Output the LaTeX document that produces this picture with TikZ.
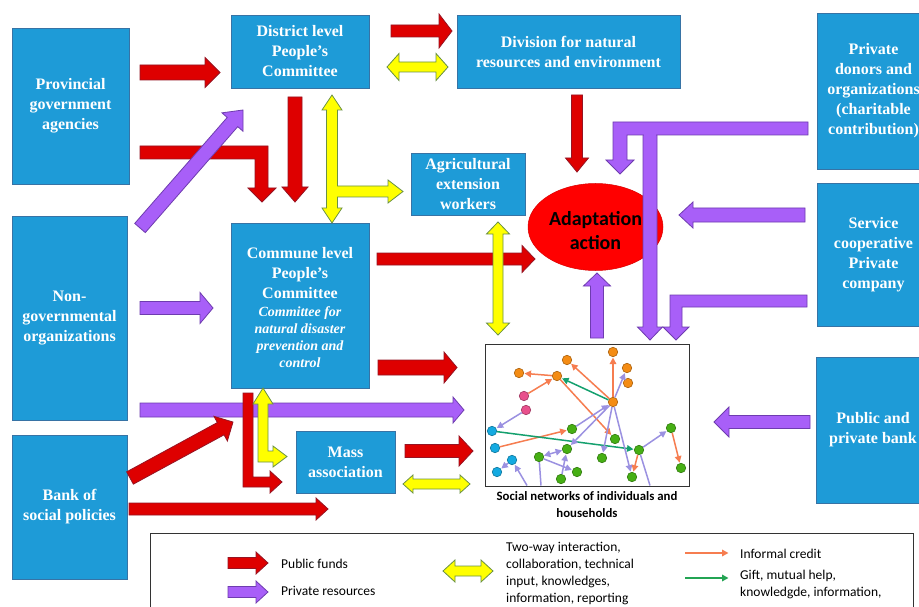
\documentclass[tikz,border=0pt]{standalone}
\usepackage{fontspec}
\setmainfont{Liberation Serif}
\newfontfamily\calfont{Carlito}
\usetikzlibrary{arrows.meta,shapes.geometric}
\definecolor{boxblue}{RGB}{30,155,215}
\definecolor{boxedge}{RGB}{55,115,165}
\definecolor{rf}{RGB}{222,0,0}
\definecolor{rd}{RGB}{150,20,35}
\definecolor{pf}{RGB}{168,95,248}
\definecolor{pd}{RGB}{110,60,175}
\definecolor{yf}{RGB}{255,255,0}
\definecolor{yd}{RGB}{105,145,70}
\definecolor{nor}{RGB}{244,140,20}
\definecolor{npk}{RGB}{232,80,140}
\definecolor{ncy}{RGB}{20,170,225}
\definecolor{ngr}{RGB}{70,175,20}
\definecolor{eor}{RGB}{246,125,80}
\definecolor{egr}{RGB}{20,160,110}
\definecolor{elv}{RGB}{155,145,225}
\newcommand\ci{\fontsize{14}{17}\selectfont\itshape}
\newcommand\barrow[8]{%
  \pgfmathsetmacro\baang{atan2(-((#5)-(#3)),(#4)-(#2))}%
  \pgfmathsetmacro\balen{veclen((#4)-(#2),(#5)-(#3))}%
  \begin{scope}[shift={(#2,#3)},rotate=\baang]
    \filldraw[#1] (0,-#6) -- ({\balen-#8},-#6) -- ({\balen-#8},-#7) -- (\balen,0)
      -- ({\balen-#8},#7) -- ({\balen-#8},#6) -- (0,#6) -- cycle;
  \end{scope}}
\newcommand\dbarrow[8]{%
  \pgfmathsetmacro\baang{atan2(-((#5)-(#3)),(#4)-(#2))}%
  \pgfmathsetmacro\balen{veclen((#4)-(#2),(#5)-(#3))}%
  \begin{scope}[shift={(#2,#3)},rotate=\baang]
    \filldraw[#1] (0,0) -- (#8,#7) -- (#8,#6) -- ({\balen-#8},#6) -- ({\balen-#8},#7) -- (\balen,0)
      -- ({\balen-#8},-#7) -- ({\balen-#8},-#6) -- (#8,-#6) -- (#8,-#7) -- cycle;
  \end{scope}}
\tikzset{
  box/.style={rectangle, fill=boxblue, draw=boxedge, line width=0.8pt, text=white,
    inner sep=0pt, align=center, font=\bfseries\fontsize{16}{20}\selectfont},
  pubf/.style={fill=rf, draw=rd, line width=0.8pt},
  privf/.style={fill=pf, draw=pd, line width=0.8pt},
  twoway/.style={fill=yf, draw=yd, line width=0.8pt},
  nd/.style={circle, minimum size=9.5pt, inner sep=0pt, fill=#1, draw=#1!70!black, line width=0.6pt},
  ea/.style={line width=1.5pt, draw=#1, -{Triangle[length=6.5pt,width=6.5pt]}, shorten >=0.5pt},
  el/.style={line width=1.5pt, draw=#1},
  eb/.style={line width=1.5pt, draw=#1, {Triangle[length=6.5pt,width=6.5pt]}-{Triangle[length=6.5pt,width=6.5pt]}},
  leg/.style={font=\calfont\fontsize{13.5}{17}\selectfont, inner sep=0pt, align=left}
}
\begin{document}
\begin{tikzpicture}[x=1pt,y=-1pt]
\useasboundingbox (0,0) rectangle (919,607);
\fill[white] (0,0) rectangle (919,607);

% ---- boxes
\node[box, minimum width=117pt, minimum height=156pt] (prov) at (70.5,106) {Provincial\\government\\agencies};
\node[box, minimum width=138pt, minimum height=73pt] (dist) at (300,51.5) {District level\\People's\\Committee};
\node[box, minimum width=223pt, minimum height=73pt] (divi) at (568.5,51.5) {Division for natural\\resources and environment};
\node[box, minimum width=113pt, minimum height=156pt] (donor) at (873.5,91) {Private\\donors and\\organizations\\(charitable\\contribution)};
\node[box, minimum width=113pt, minimum height=143pt] (serv) at (873.5,254.5) {Service\\cooperative\\Private\\company};
\node[box, minimum width=114pt, minimum height=146pt] (pbank) at (873,430) {Public and\\private bank};
\node[box, minimum width=114pt, minimum height=62pt] (agri) at (468,184) {Agricultural\\extension\\workers};
\node[box, minimum width=115pt, minimum height=204pt] (ngo) at (69.5,318) {Non-\\governmental\\organizations};
\node[box, minimum width=115pt, minimum height=144pt] (bsp) at (69.5,507) {Bank of\\social policies};
\node[box, minimum width=138pt, minimum height=165pt] (comm) at (300,305.5) {};
\node[box, fill=none, draw=none] (commtxt) at (300,308) {Commune level\\People's\\Committee\\[-2pt]\ci Committee for\\[-3pt]\ci natural disaster\\[-3pt]\ci prevention and\\[-3pt]\ci control};
\node[box, minimum width=99pt, minimum height=62pt] (mass) at (345.5,462) {Mass\\association};
\node[ellipse, fill=red, draw=red!85!black, line width=0.5pt, minimum width=135pt, minimum height=87pt, inner sep=0pt] (adapt) at (595.5,227) {};
\node[align=center, inner sep=0pt, font=\calfont\bfseries\fontsize{20}{24}\selectfont] (adtxt) at (595.5,231) {Adaptation\\action};

% ---- block arrows
\barrow{pubf}{140}{72.5}{220}{72.5}{7.5}{15}{15}
\barrow{pubf}{391}{31}{452}{31}{6}{17}{13}
\dbarrow{twoway}{387}{67}{448}{67}{5}{13.5}{12}
\barrow{pubf}{295}{97}{295}{202}{7}{13}{15}
\filldraw[pubf] (140,146) -- (268,146) -- (268,188) -- (276,188) -- (262,202) -- (248,188) -- (255,188) -- (255,159) -- (140,159) -- cycle;
\barrow{privf}{140}{228}{243}{110}{7}{14}{16}
\filldraw[twoway] (332,95) -- (342,110) -- (337.5,110) -- (337.5,186) -- (388,186) -- (388,180) -- (403,191.5) -- (388,203) -- (388,197) -- (337.5,197) -- (337.5,208) -- (342,208) -- (332,223) -- (322,208) -- (326.5,208) -- (326.5,110) -- (322,110) -- cycle;
\barrow{pubf}{577}{95}{577}{172}{5.5}{11.5}{14}
\barrow{privf}{650}{128}{650}{340}{7}{12.5}{13}
\filldraw[privf] (808,122) -- (613,122) -- (613,160) -- (606,160) -- (620,174) -- (634,160) -- (627,160) -- (627,135) -- (808,135) -- cycle;
\fill[pf] (643.8,134) rectangle (656.2,137);
\barrow{privf}{805}{215}{679}{215}{7}{13}{14}
\filldraw[privf] (807,295) -- (670,295) -- (670,327) -- (663,327) -- (676,340) -- (689,327) -- (682,327) -- (682,307) -- (807,307) -- cycle;
\barrow{privf}{597}{338}{597}{273}{6.5}{13.5}{13}
\barrow{pubf}{377}{259}{535}{259}{6}{13.5}{13}
\dbarrow{twoway}{498}{222}{498}{335}{5}{11.5}{12}
\barrow{privf}{140}{308}{213}{308}{6.5}{15.5}{13}
\barrow{pubf}{378}{367.5}{457}{367.5}{7.5}{15.5}{13}
\barrow{privf}{140}{410}{464}{410}{7}{13}{11}
\filldraw[pubf] (243,393) -- (253,393) -- (253,477) -- (270,477) -- (270,471) -- (282,482) -- (270,493) -- (270,487) -- (243,487) -- cycle;
\filldraw[twoway] (263,388) -- (273,404) -- (268,404) -- (268,451) -- (273,451) -- (273,446) -- (287,456.5) -- (273,467) -- (273,462) -- (258,462) -- (258,404) -- (253,404) -- cycle;
\barrow{pubf}{130}{478}{233}{422}{7}{14}{14}
\barrow{pubf}{129}{509}{328}{509}{6}{11}{12}
\barrow{pubf}{405}{451}{473}{451}{6.5}{15}{14}
\dbarrow{twoway}{403}{484}{470}{484}{5}{9}{10}
\barrow{privf}{810}{422}{714}{422}{6.5}{15}{15}

% ---- social network
\node[draw=black!80, line width=1pt, minimum width=204pt, minimum height=142pt, inner sep=0pt] (net) at (587,415) {};
\node[font=\calfont\bfseries\fontsize{12.8}{17}\selectfont, align=center, inner sep=0pt, anchor=north] (cap) at (587,491.5) {Social networks of individuals and\\households};

\node[nd=nor] (o1) at (613,352) {};
\node[nd=nor] (o2) at (567,360) {};
\node[nd=nor] (o3) at (519,373) {};
\node[nd=nor] (o4) at (557,376) {};
\node[nd=nor] (o5) at (627,368) {};
\node[nd=nor] (o6) at (628,383) {};
\node[nd=nor] (o7) at (613,402) {};
\node[nd=npk] (p1) at (524,396) {};
\node[nd=npk] (p2) at (526,410) {};
\node[nd=ncy] (c1) at (492,431) {};
\node[nd=ncy] (c2) at (495,448) {};
\node[nd=ncy] (c3) at (512,460) {};
\node[nd=ncy] (c4) at (497,472) {};
\node[nd=ngr] (g1) at (572,429) {};
\node[nd=ngr] (g2) at (615,439) {};
\node[nd=ngr] (g3) at (567,449) {};
\node[nd=ngr] (g4) at (539,457) {};
\node[nd=ngr] (g5) at (602,458) {};
\node[nd=ngr] (g6) at (639,450) {};
\node[nd=ngr] (g7) at (671,428) {};
\node[nd=ngr] (g8) at (681,468) {};
\node[nd=ngr] (g9) at (577,472) {};
\node[nd=ngr] (g10) at (561,479) {};
\node[nd=ngr] (g11) at (632,477) {};
\coordinate (b1) at (527,485.5);
\coordinate (b2) at (541,485.5);
\coordinate (b3) at (650,485.5);

\draw[ea=eor] (o4) -- (o3);
\draw[ea=eor] (p1) -- (o4);
\draw[ea=eor] (o7) -- (o2);
\draw[ea=eor] (o7) -- (o1);
\draw[ea=eor] (o4) -- (g2);
\draw[ea=eor] (c2) -- (g1);
\draw[ea=eor] (g6) -- (g11);
\draw[ea=eor] (g7) -- (g8);
\draw[ea=egr] (o7) -- (o4);
\draw[ea=egr] (c1) -- (g6);
\draw[ea=elv] (o7) -- (o5);
\draw[ea=elv] (p2) -- (c1);
\draw[ea=elv] (g1) -- (o7);
\draw[ea=elv] (o7) -- (g3);
\draw[ea=elv] (o7) -- (g5);
\draw[ea=elv] (o7) -- (g11);
\draw[ea=elv] (g6) -- (g7);
\draw[el=elv] (g6) -- (b3);
\draw[eb=elv] (g4) -- (g3);
\draw[el=elv] (g4) -- (b2);
\draw[ea=elv] (g4) -- (g9);
\draw[ea=elv] (g10) -- (g3);
\draw[ea=elv] (b1) -- (c3);
\draw[ea=elv] (c3) -- (c4);

% ---- legend
\node[draw=black!80, line width=1.2pt, minimum width=763pt, minimum height=90pt, inner sep=0pt, anchor=north west] (legbox) at (150,533) {};
\barrow{pubf}{228}{563}{268}{563}{5.5}{11}{12}
\node[leg, anchor=west] (lpub) at (281,564) {Public funds};
\barrow{privf}{228}{592}{268}{592}{5.5}{11}{12}
\node[leg, anchor=west] (lpriv) at (281,591) {Private resources};
\dbarrow{twoway}{443}{571}{493}{571}{5}{11}{12}
\node[leg, anchor=north west] (ltwo) at (506,542) {Two-way interaction,\\collaboration, technical\\input, knowledges,\\information, reporting};
\coordinate (lo1) at (685,553);
\coordinate (lo2) at (729,553);
\draw[ea=eor, line width=1.8pt] (lo1) -- (lo2);
\node[leg, anchor=west] (lcred) at (740,554) {Informal credit};
\coordinate (lg1) at (685,578);
\coordinate (lg2) at (729,578);
\draw[ea=egr!70!ngr, line width=1.8pt] (lg1) -- (lg2);
\node[leg, anchor=north west] (lgift) at (740,570) {Gift, mutual help,\\knowledgde, information,};
\end{tikzpicture}
\end{document}
